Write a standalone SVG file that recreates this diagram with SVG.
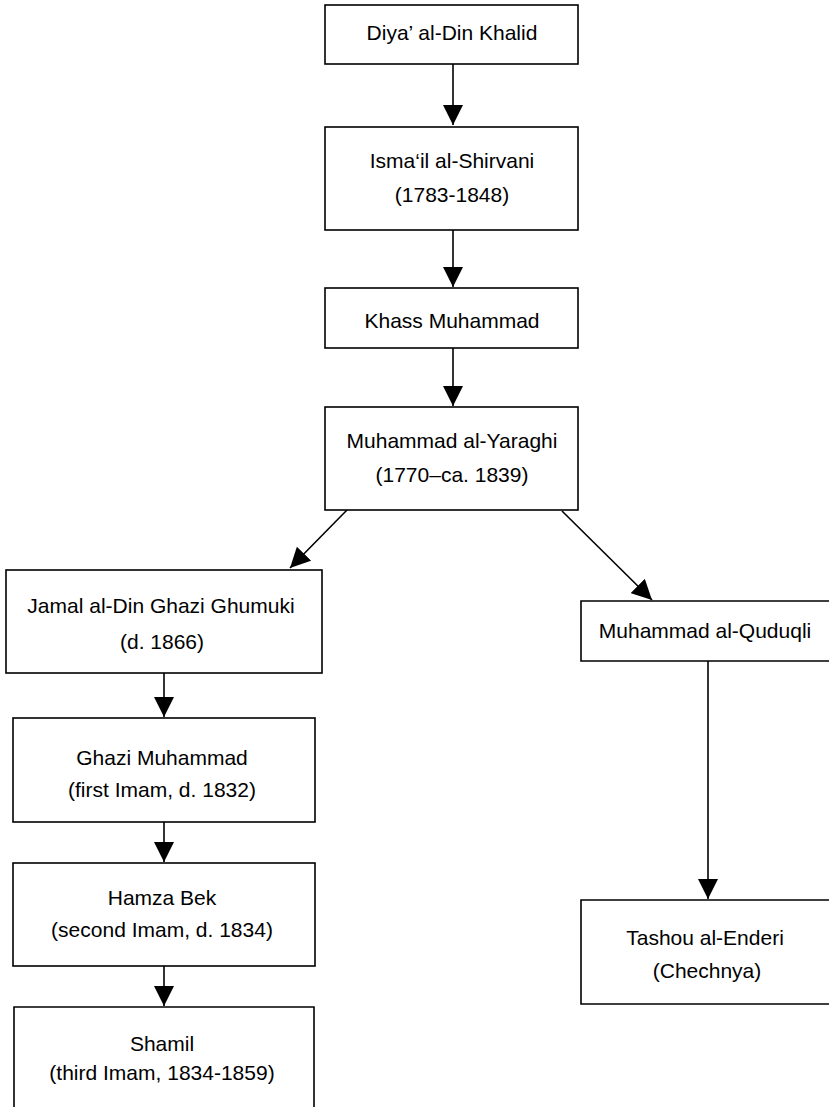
<svg xmlns="http://www.w3.org/2000/svg" width="829" height="1107" viewBox="0 0 829 1107">
  <style>
    .box { fill: #ffffff; stroke: #000000; stroke-width: 1.6; }
    .open { fill: none; stroke: #000000; stroke-width: 1.6; }
    .lbl { font-family: "Liberation Sans", Arial, sans-serif; font-size: 21px; fill: #000000; text-anchor: middle; }
    .conn { fill: none; stroke: #000000; stroke-width: 1.6; marker-end: url(#head); }
  </style>
  <defs>
    <marker id="head" markerUnits="userSpaceOnUse" markerWidth="20" markerHeight="20" viewBox="0 0 20 20" refX="20" refY="10" orient="auto">
      <path d="M0,0 L20,10 L0,20 Z" fill="#000000"/>
    </marker>
  </defs>
  <rect width="829" height="1107" fill="#ffffff"/>

  <g id="connectors">
    <line class="conn" x1="453" y1="64" x2="453" y2="125"/>
    <line class="conn" x1="453" y1="230" x2="453" y2="287"/>
    <line class="conn" x1="453" y1="348" x2="453" y2="406"/>
    <line class="conn" x1="347" y1="510" x2="290" y2="568"/>
    <line class="conn" x1="562" y1="511" x2="652" y2="600"/>
    <line class="conn" x1="164" y1="673" x2="164" y2="717"/>
    <line class="conn" x1="164" y1="822" x2="164" y2="862"/>
    <line class="conn" x1="164" y1="966" x2="164" y2="1006"/>
    <line class="conn" x1="708" y1="661" x2="708" y2="899"/>
  </g>

  <g id="diya">
    <rect class="box" x="325" y="5" width="253" height="59"/>
    <text class="lbl" x="452" y="40">Diya’ al-Din Khalid</text>
  </g>

  <g id="ismail">
    <rect class="box" x="325" y="127" width="253" height="103"/>
    <text class="lbl" x="452" y="168">Isma‘il al-Shirvani</text>
    <text class="lbl" x="452" y="202">(1783-1848)</text>
  </g>

  <g id="khass">
    <rect class="box" x="325" y="288" width="253" height="60"/>
    <text class="lbl" x="452" y="328">Khass Muhammad</text>
  </g>

  <g id="yaraghi">
    <rect class="box" x="325" y="407" width="253" height="103"/>
    <text class="lbl" x="452" y="448">Muhammad al-Yaraghi</text>
    <text class="lbl" x="452" y="482">(1770–ca. 1839)</text>
  </g>

  <g id="jamal">
    <rect class="box" x="6" y="570" width="316" height="103"/>
    <text class="lbl" x="161" y="613">Jamal al-Din Ghazi Ghumuki</text>
    <text class="lbl" x="162" y="649">(d. 1866)</text>
  </g>

  <g id="quduqli">
    <path class="open" d="M831,601 H581 V661 H831"/>
    <text class="lbl" x="705" y="638">Muhammad al-Quduqli</text>
  </g>

  <g id="ghazi">
    <rect class="box" x="13" y="718" width="302" height="104"/>
    <text class="lbl" x="162" y="765">Ghazi Muhammad</text>
    <text class="lbl" x="162" y="797">(first Imam, d. 1832)</text>
  </g>

  <g id="hamza">
    <rect class="box" x="13" y="863" width="302" height="103"/>
    <text class="lbl" x="162" y="905">Hamza Bek</text>
    <text class="lbl" x="162" y="937">(second Imam, d. 1834)</text>
  </g>

  <g id="shamil">
    <path class="open" d="M14,1109 V1007 H314 V1109"/>
    <text class="lbl" x="162" y="1051">Shamil</text>
    <text class="lbl" x="162" y="1080">(third Imam, 1834-1859)</text>
  </g>

  <g id="tashou">
    <path class="open" d="M831,900 H581 V1004 H831"/>
    <text class="lbl" x="705" y="945">Tashou al-Enderi</text>
    <text class="lbl" x="707" y="978">(Chechnya)</text>
  </g>
</svg>
